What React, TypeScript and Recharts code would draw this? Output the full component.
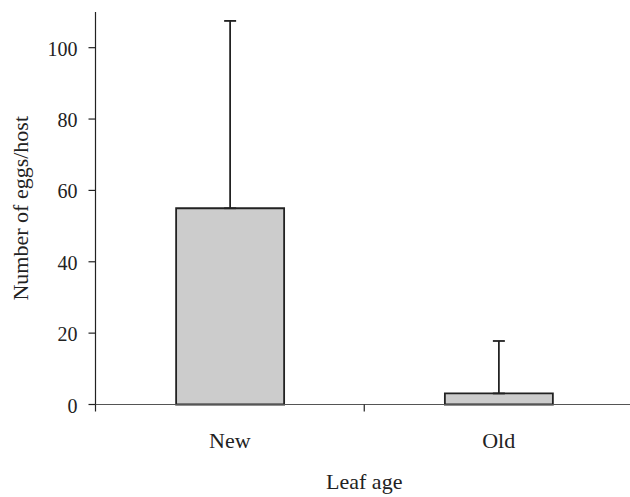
import React from 'react';
import { BarChart, Bar, XAxis, YAxis, ErrorBar, Label } from 'recharts';

const categories = ['New', 'Old'];
const means = [55, 3.1];
const errorsUp = [52.5, 14.7];
const yTicks = [0, 20, 40, 60, 80, 100];
const yDomain = [0, 110];
const xTitle = 'Leaf age';
const yTitle = 'Number of eggs/host';

const data = categories.map((c, i) => ({ name: c, value: means[i], err: [0, errorsUp[i]] }));

const FONT = "'Liberation Serif', 'DejaVu Serif', serif";
const INK = '#222';
const NUM: React.CSSProperties = { fontFamily: FONT, fontSize: 20 };
const TXT: React.CSSProperties = { fontFamily: FONT, fontSize: 22 };

const XTick = (props: any) => {
  const { x, y, payload } = props;
  const off = payload && payload.offset ? payload.offset : 0;
  return (
    <g>
      <line x1={x - off} y1={y} x2={x - off} y2={y + 7} stroke={INK} strokeWidth={1.2} />
      <text x={x} y={y + 43.5} textAnchor="middle" style={TXT} fill={INK}>
        {payload.value}
      </text>
    </g>
  );
};

const YTick = (props: any) => {
  const { x, y, payload } = props;
  return (
    <text x={x} y={y + 8} textAnchor="end" style={NUM} fill={INK}>
      {payload.value}
    </text>
  );
};

const YTitle = (p: any) => {
  const vb = p.viewBox || { x: 0, y: 0, width: 0, height: 0 };
  const cx = vb.x + 28;
  const cy = vb.y + vb.height / 2;
  return (
    <text
      x={0}
      y={0}
      transform={`translate(${cx}, ${cy}) rotate(-90)`}
      textAnchor="middle"
      style={TXT}
      fill={INK}
    >
      {yTitle}
    </text>
  );
};

const XTitle = (p: any) => {
  const vb = p.viewBox || { x: 0, y: 0, width: 0, height: 0 };
  return (
    <text x={vb.x + vb.width / 2} y={vb.y + 84} textAnchor="middle" style={TXT} fill={INK}>
      {xTitle}
    </text>
  );
};

export default function App() {
  return (
    <div style={{ position: 'absolute', left: 0, top: 0, width: 630, height: 497, overflow: 'hidden', background: '#fff', fontFamily: FONT }}>
      <BarChart
        width={633}
        height={497}
        data={data}
        margin={{ top: 12, right: 0, bottom: 0, left: 0 }}
        barCategoryGap="30%"
      >
        <XAxis
          dataKey="name"
          height={92.5}
          axisLine={{ stroke: '#555', strokeWidth: 1.2 }}
          tickLine={false}
          tickSize={0}
          tickMargin={0}
          tick={<XTick />}
          interval={0}
        >
          <Label content={<XTitle />} />
        </XAxis>
        <YAxis
          width={95.5}
          domain={yDomain}
          ticks={yTicks}
          interval={0}
          axisLine={{ stroke: INK, strokeWidth: 1.2 }}
          tickLine={{ stroke: INK, strokeWidth: 1.2 }}
          tickSize={7}
          tickMargin={11}
          tick={<YTick />}
        >
          <Label content={<YTitle />} />
        </YAxis>
        <Bar dataKey="value" fill="#cccccc" stroke={INK} strokeWidth={1.8} isAnimationActive={false}>
          <ErrorBar dataKey="err" direction="y" width={6} stroke={INK} strokeWidth={1.8} isAnimationActive={false} />
        </Bar>
      </BarChart>
    </div>
  );
}
